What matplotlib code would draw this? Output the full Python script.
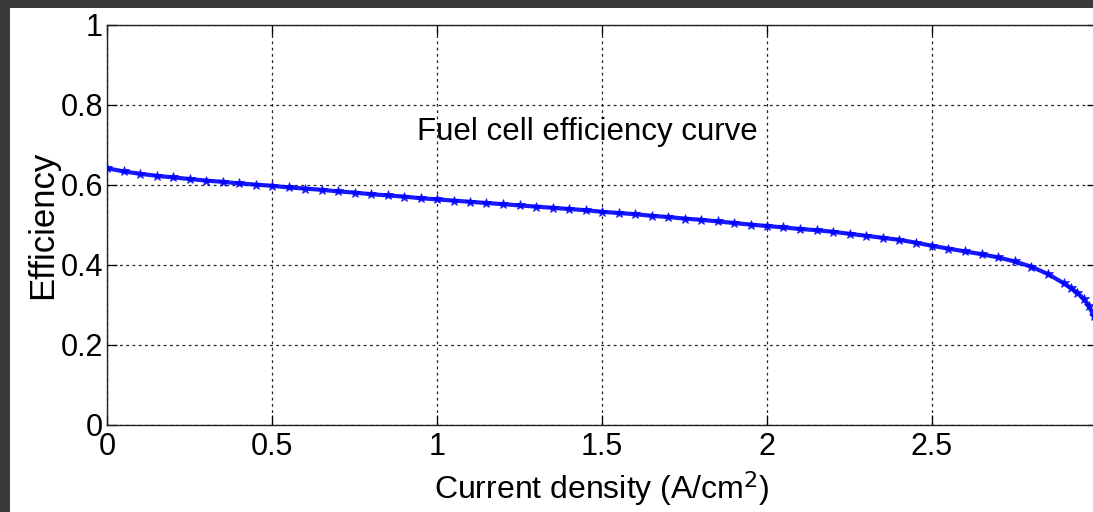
import matplotlib
matplotlib.use("Agg")
import matplotlib.pyplot as plt
from matplotlib.patches import Rectangle

plt.rcParams['font.family'] = ['Liberation Sans', 'DejaVu Sans']
plt.rcParams['mathtext.fontset'] = 'custom'
plt.rcParams['mathtext.rm'] = 'Liberation Sans'
plt.rcParams['mathtext.it'] = 'Liberation Sans'

# current density (A/cm^2) and efficiency
current_density = [0.00, 0.05, 0.10, 0.15, 0.20, 0.25, 0.30, 0.35, 0.40, 0.45,
                   0.50, 0.55, 0.60, 0.65, 0.70, 0.75, 0.80, 0.85, 0.90, 0.95,
                   1.00, 1.05, 1.10, 1.15, 1.20, 1.25, 1.30, 1.35, 1.40, 1.45,
                   1.50, 1.55, 1.60, 1.65, 1.70, 1.75, 1.80, 1.85, 1.90, 1.95,
                   2.00, 2.05, 2.10, 2.15, 2.20, 2.25, 2.30, 2.35, 2.40, 2.45,
                   2.50, 2.55, 2.60, 2.65, 2.70, 2.75, 2.80, 2.85, 2.90, 2.92,
                   2.94, 2.96, 2.975, 2.99]
efficiency = [0.642, 0.634, 0.628, 0.623, 0.619, 0.615, 0.611, 0.608, 0.604, 0.601,
              0.598, 0.594, 0.591, 0.588, 0.584, 0.581, 0.577, 0.574, 0.571, 0.567,
              0.564, 0.561, 0.558, 0.555, 0.552, 0.549, 0.546, 0.543, 0.540, 0.537,
              0.533, 0.530, 0.527, 0.523, 0.520, 0.516, 0.513, 0.509, 0.505, 0.501,
              0.4975, 0.494, 0.490, 0.487, 0.483, 0.478, 0.473, 0.468, 0.463, 0.456,
              0.448, 0.441, 0.434, 0.427, 0.419, 0.409, 0.396, 0.378, 0.354, 0.343,
              0.331, 0.315, 0.298, 0.272]

x_ticks = [0, 0.5, 1, 1.5, 2, 2.5]
x_tick_labels = ['0', '0.5', '1', '1.5', '2', '2.5']
y_ticks = [0, 0.2, 0.4, 0.6, 0.8, 1]
y_tick_labels = ['0', '0.2', '0.4', '0.6', '0.8', '1']

fig = plt.figure(figsize=(10.93, 5.12), dpi=100)
fig.patch.set_facecolor('#3a3a3a')
# white sheet behind the plot
fig.patches.append(Rectangle((10 / 1093, 0), 1, 1 - 8 / 512, transform=fig.transFigure,
                             facecolor='white', edgecolor='none', zorder=-10))

ax = fig.add_axes([107 / 1093, 87 / 512, 990 / 1093, 400 / 512])
ax.set_facecolor('white')

# thick line with star markers, like a densely sampled MATLAB '*' plot
ax.plot(current_density, efficiency, color='#0000ff', linewidth=3.0,
        alpha=0.9, zorder=3)
ax.plot(current_density, efficiency, linestyle='none', color='#0000ff',
        marker='*', markersize=7, markeredgewidth=0.6, alpha=0.8, zorder=4)

ax.set_xlim(0, 3)
ax.set_ylim(0, 1)
ax.set_xticks(x_ticks)
ax.set_xticklabels(x_tick_labels)
ax.set_yticks(y_ticks)
ax.set_yticklabels(y_tick_labels)

ax.grid(True, color='#222222', linestyle=(0, (2.2, 2.8)), linewidth=0.9)
ax.tick_params(direction='in', length=7, width=0.9, top=True, right=True,
               labelsize=22)
ax.tick_params(axis='x', pad=5)
ax.tick_params(axis='y', pad=3)
for spine in ax.spines.values():
    spine.set_linewidth(1.0)
    spine.set_color('#202020')

ax.set_xlabel(r'Current density (A/cm$^{\mathsf{2}}$)', fontsize=23, labelpad=5)
ax.set_ylabel('Efficiency', fontsize=25, labelpad=1)

ax.text(1.455, 0.7325, 'Fuel cell efficiency curve', fontsize=22.5,
        ha='center', va='center')

fig.savefig('out.png', dpi=100, facecolor=fig.get_facecolor())
